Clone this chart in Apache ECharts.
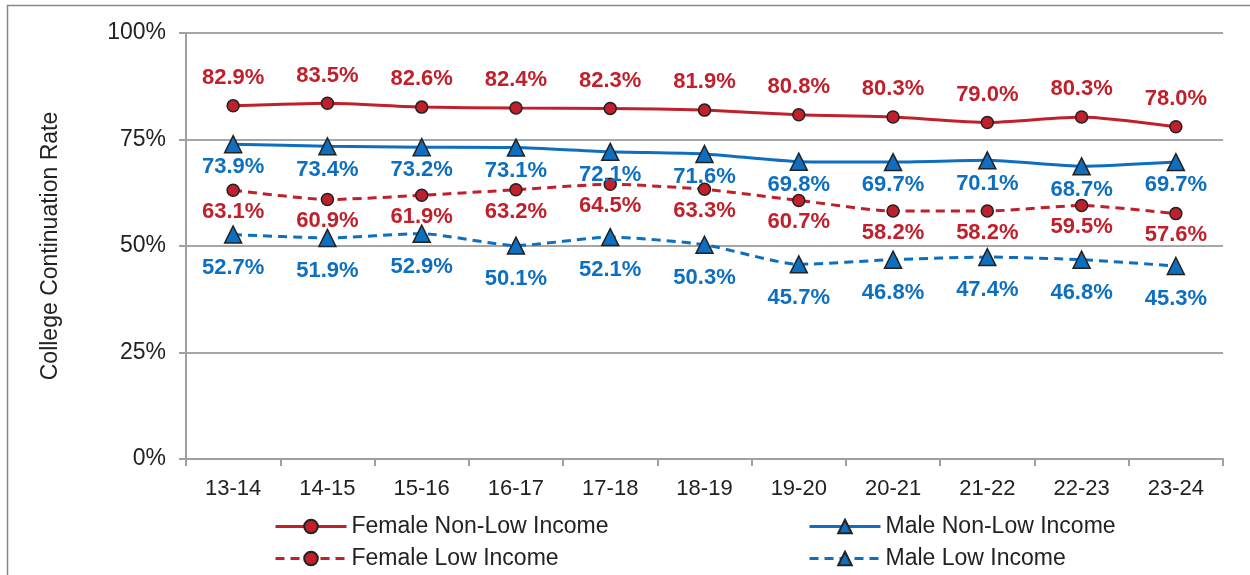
<!DOCTYPE html>
<html>
<head>
<meta charset="utf-8">
<script src="https://cdn.jsdelivr.net/npm/echarts@6/dist/echarts.min.js"></script>
<style>
  html, body { margin: 0; padding: 0; background: #fff; }
  #chart { width: 1250px; height: 575px; }
</style>
</head>
<body>
<div id="chart"></div>
<script>
const years = ['13-14', '14-15', '15-16', '16-17', '17-18', '18-19', '19-20', '20-21', '21-22', '22-23', '23-24']
const femaleNonLow = [82.9, 83.5, 82.6, 82.4, 82.3, 81.9, 80.8, 80.3, 79.0, 80.3, 78.0]
const maleNonLow = [73.9, 73.4, 73.2, 73.1, 72.1, 71.6, 69.8, 69.7, 70.1, 68.7, 69.7]
const femaleLow = [63.1, 60.9, 61.9, 63.2, 64.5, 63.3, 60.7, 58.2, 58.2, 59.5, 57.6]
const maleLow = [52.7, 51.9, 52.9, 50.1, 52.1, 50.3, 45.7, 46.8, 47.4, 46.8, 45.3]

const RED = '#C0202B'
const BLUE = '#0E6FC0'
const FONT = 'Liberation Sans'

// 通用的折线配置
function makeSeries(name, data, color, dashed, symbol, pos, dist) {
  return {
    name: name,
    type: 'line',
    data: data,
    smooth: 0.2,
    symbol: symbol,
    symbolSize: symbol === 'circle' ? 12 : 17,
    lineStyle: { color: color, width: 3, type: dashed ? [9, 6] : 'solid' },
    itemStyle: { color: color, borderColor: '#222', borderWidth: 1.5 },
    label: {
      show: true,
      position: pos,
      distance: dist,
      color: color,
      fontFamily: FONT,
      fontWeight: 'bold',
      fontSize: 22,
      formatter: p => p.value.toFixed(1) + '%'
    },
    emphasis: { disabled: true },
    z: 3
  }
}

const chart = echarts.init(document.getElementById('chart'))

const legendText = { fontFamily: FONT, fontSize: 23, color: '#222' }

chart.setOption({
  animation: false,
  graphic: [
    {
      type: 'rect',
      shape: { x: 7.5, y: 5.5, width: 1260, height: 600 },
      style: { fill: 'none', stroke: '#888', lineWidth: 1.5 },
      silent: true
    }
  ],
  grid: { left: 186, right: 27, top: 33, bottom: 116 },
  legend: [
    {
      left: 269, top: 510, orient: 'vertical', itemGap: 9,
      itemWidth: 71, itemHeight: 17,
      lineStyle: { width: 3 },
      textStyle: legendText,
      data: ['Female Non-Low Income', 'Female Low Income']
    },
    {
      left: 803, top: 510, orient: 'vertical', itemGap: 9,
      itemWidth: 71, itemHeight: 17,
      lineStyle: { width: 3 },
      textStyle: legendText,
      data: ['Male Non-Low Income', 'Male Low Income']
    }
  ],
  xAxis: {
    type: 'category',
    data: years,
    boundaryGap: true,
    axisLine: { lineStyle: { color: '#A0A0A0', width: 2 } },
    axisTick: { show: true, length: 7, lineStyle: { color: '#A0A0A0', width: 2 } },
    axisLabel: { fontFamily: FONT, fontSize: 22, color: '#222', margin: 19 }
  },
  yAxis: {
    type: 'value',
    min: 0,
    max: 100,
    interval: 25,
    name: 'College Continuation Rate',
    nameLocation: 'middle',
    nameGap: 124,
    nameRotate: 90,
    nameTextStyle: { fontFamily: FONT, fontSize: 23, color: '#222' },
    axisLine: { show: true, lineStyle: { color: '#A0A0A0', width: 2 } },
    axisTick: { show: true, length: 7, lineStyle: { color: '#A0A0A0', width: 2 } },
    axisLabel: { fontFamily: FONT, fontSize: 23, color: '#222', margin: 20, formatter: '{value}%' },
    splitLine: { lineStyle: { color: '#A6A6A6', width: 2 } }
  },
  series: [
    makeSeries('Female Non-Low Income', femaleNonLow, RED, false, 'circle', 'top', 10),
    makeSeries('Male Non-Low Income', maleNonLow, BLUE, false, 'triangle', 'bottom', 3),
    makeSeries('Female Low Income', femaleLow, RED, true, 'circle', 'bottom', 4),
    makeSeries('Male Low Income', maleLow, BLUE, true, 'triangle', 'bottom', 13)
  ]
})
</script>
</body>
</html>
